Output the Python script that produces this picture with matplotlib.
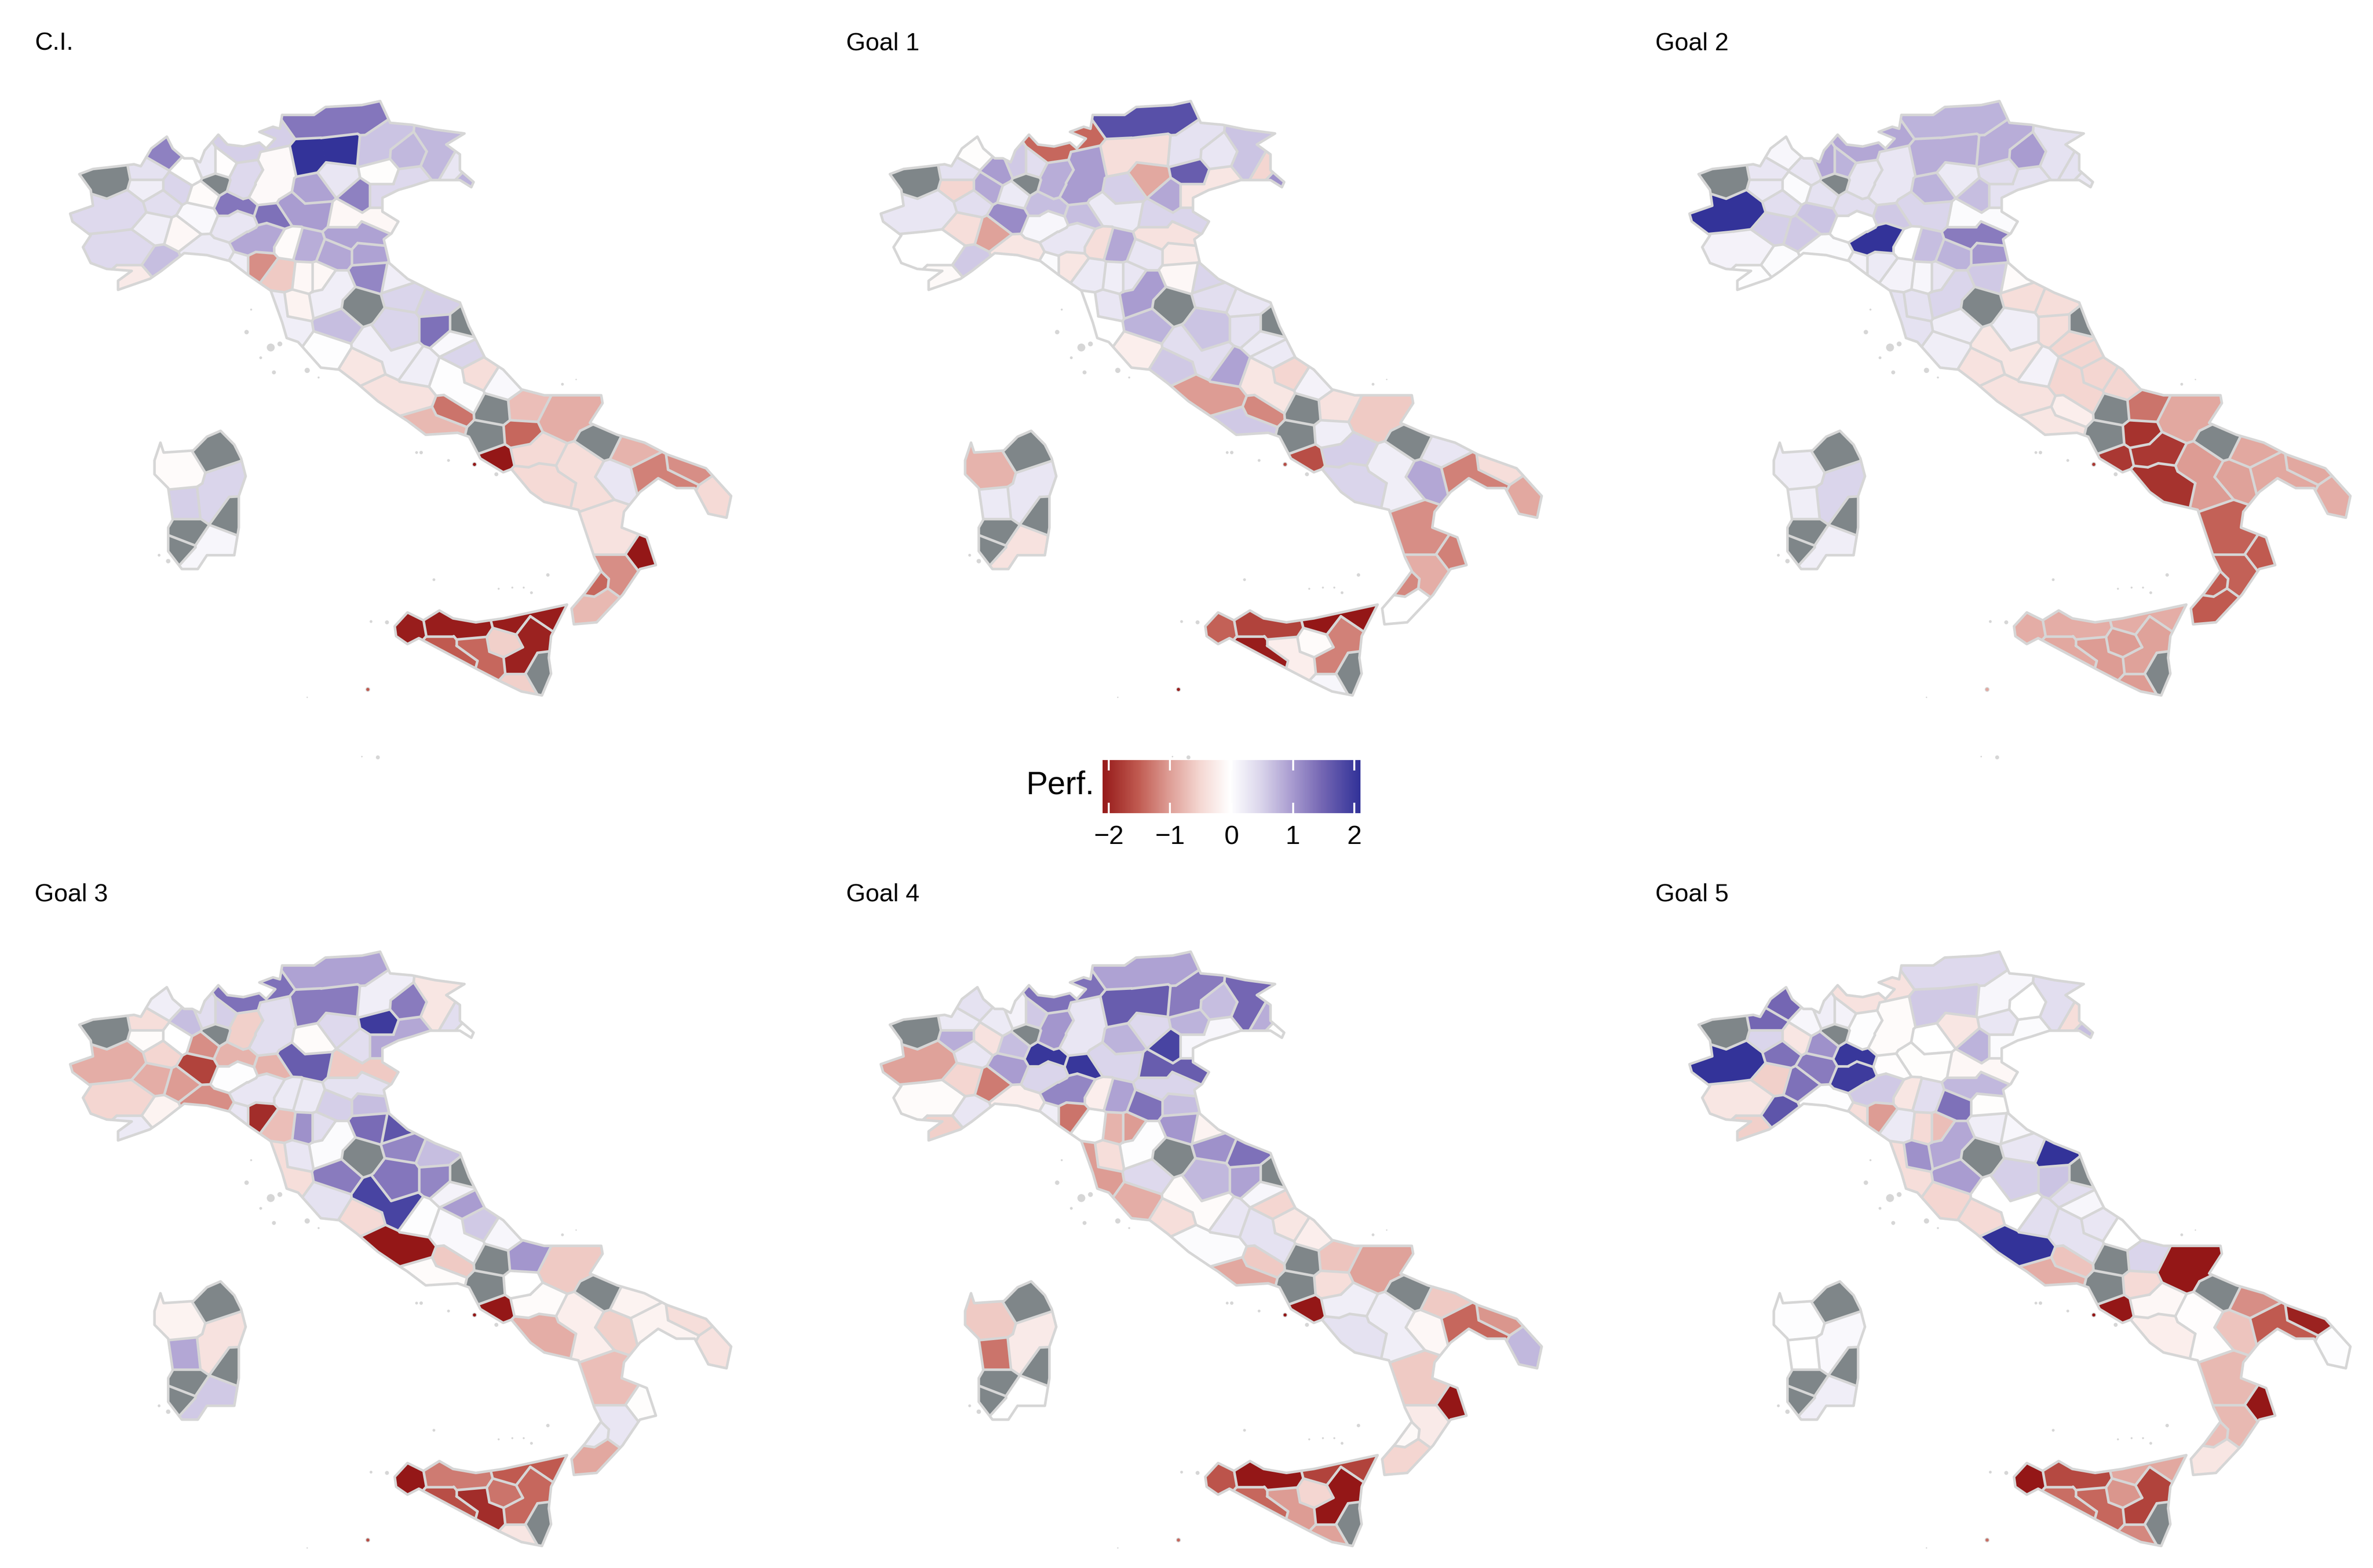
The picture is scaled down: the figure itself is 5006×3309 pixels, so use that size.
import numpy as np
import matplotlib
matplotlib.use("Agg")
import matplotlib.pyplot as plt
from matplotlib.collections import PolyCollection, LineCollection
from matplotlib.colors import LinearSegmentedColormap, Normalize
from matplotlib.cm import ScalarMappable
from matplotlib.path import Path
from matplotlib.patches import PathPatch

plt.rcParams['font.family'] = ['Liberation Sans', 'DejaVu Sans']
nan = float('nan')

TITLES = ["C.I.", "Goal 1", "Goal 2", "Goal 3", "Goal 4", "Goal 5"]
PROVINCES = ["AO","TO","CN","IM","SV","GE","SP","VCO","BIa","BIb",
 "VC","NO","VA","CO","LC","MB","MI","PV","AL","AT",
 "LO","CR","PC","PR","RE","MO","BO","FE","RA","FC",
 "RN","MN","VR","VI","PD","RO","VE","TV","BL","PN",
 "UD","GO","TS","BZ","TN","SO","BG","BS","MS","LU",
 "PT","PO","FI","PI","LI","AR","SI","GR","PU","AN",
 "MC","FM","AP","PG","TR","VT","RI","TE","PE","AQ",
 "CH","RM","FR","LT","IS","CE","CB","BN","FG","AV",
 "NA","SA","PZ","MT","BAT","BA","TA","BR","LE","CS",
 "KR","CZ","VV","RC","TP","PA","ME","AG","CL","EN",
 "CT","RG","SR","SS","OT","NU","OR","OG","VS","SU",
 "CA"]
CI = [nan,.45,.45,-.25,.7,.25,.2,1.25,.35,.2,
 .4,.5,0,.25,-.02,nan,-.05,.08,-.1,.2,
 1.35,1.4,.3,.9,-.05,.85,.9,.95,.95,1.2,
 .2,1.0,.95,.3,1.25,-.1,.45,-.03,.65,.75,
 .75,.3,.8,1.35,2.1,.55,.45,-.07,-1.1,-.6,
 -.1,-.1,.2,-.15,.2,nan,.7,.02,.5,.55,
 1.4,nan,.08,.5,.2,-.3,.2,.5,-.4,.03,
 .08,-.35,-1.3,-.75,nan,nan,-.7,-1.4,-.85,-.45,
 -2.1,-.45,-.4,.3,nan,-.8,-1.2,-1.1,-.45,-.35,
 -2.1,-1.1,-1.4,-.75,-2.05,-2.05,-2.05,-1.5,-1.4,-.55,
 -2.0,-.55,nan,-.05,nan,.5,.55,nan,nan,nan,
 .1]
GOAL1 = [nan,.3,0,-.08,.6,-.3,.05,-.03,.35,-.5,
 .4,.9,1.0,.6,.4,nan,.25,1.15,-.95,-.4,
 .7,.7,.1,.3,-.4,.9,.3,-.35,-.25,-.1,
 .5,.25,.55,-.9,.9,.5,-.3,1.6,.35,.3,
 .65,-.5,1.1,1.75,-.4,-1.4,.85,1.0,-.3,.25,
 .2,.3,1.0,.3,0,nan,.8,-.2,.4,.3,
 .35,nan,.25,.65,.4,.6,.95,.25,-.5,-.3,
 .15,-1.0,-1.15,.6,nan,nan,-.35,.2,-.6,.55,
 -1.6,.5,.2,.9,nan,.3,-1.2,-.4,-.9,-1.1,
 -1.2,-.85,-1.15,0,-1.45,-1.7,-2.1,-2.05,-.2,-.05,
 -1.2,.1,nan,-.8,nan,.3,.25,nan,nan,nan,
 -.35]
GOAL2 = [nan,2.1,.15,.02,.05,.05,.15,.1,.3,.25,
 .4,.05,.3,.9,.8,nan,.35,.65,.6,.55,
 .4,.6,0,2.1,0,.7,.8,1.3,1.05,.6,
 -.05,.5,.8,.25,.7,.05,.35,.4,.85,1.0,
 .35,.35,.25,.8,.85,.9,.3,.3,.25,.15,
 .1,.3,.5,.35,.35,nan,.2,.2,-.4,-.4,
 -.4,nan,-.5,.2,-.3,-.35,.15,-.5,-.5,-.5,
 -.5,-.35,-.2,-.3,nan,nan,-1.3,-1.85,-.9,-1.8,
 -1.8,-1.85,-1.0,-.95,nan,-.9,-.9,-.9,-.85,-1.45,
 -1.5,-1.45,-1.5,-1.5,-.85,-.85,-.85,-.9,-1.0,-1.0,
 -.95,-1.0,nan,.2,nan,.5,.2,nan,nan,nan,
 .2]
GOAL3 = [nan,-.85,-.5,.25,-.15,-1.1,.3,.2,-.4,-.05,
 -.5,0,.7,.4,.55,nan,-1.1,-1.7,-1.0,-.85,
 -.8,-.8,.03,.3,.25,.25,.55,.35,.7,1.45,
 1.7,1.6,-.05,.45,.4,-.6,.9,2.0,.2,1.3,
 -.3,.4,0,.95,1.3,1.4,-.55,.4,-1.9,-.7,
 1.1,.4,.05,.3,-.4,nan,1.3,.35,1.2,.7,
 1.2,nan,.15,1.35,1.9,-.45,.03,1.0,.6,.08,
 .1,-2.1,-.6,-.05,nan,nan,1.05,0,-.6,-.05,
 -2.1,-.85,-.2,-.55,nan,-.15,-.15,-.4,-.35,-.7,
 -.03,.3,.25,-.9,-2.1,-1.25,-1.5,-1.6,-1.9,-1.3,
 -1.4,-.3,nan,-.15,nan,-.35,.9,nan,nan,nan,
 .6]
GOAL4 = [nan,-.95,-.05,-.55,.3,-.2,.2,.35,.25,.85,
 .3,-.35,.25,.15,.6,nan,.7,1.0,-1.25,-.5,
 2.05,2.05,.5,1.2,-.2,.95,1.4,.5,.7,1.05,
 -.15,.5,.8,.45,1.9,1.6,.1,.8,1.3,.7,
 1.5,.85,0,.95,1.6,1.4,1.05,.3,-1.3,0,
 -.8,-1.0,.03,-.4,-1.0,nan,.45,-.85,1.1,1.4,
 .95,nan,.1,.75,-.05,-.4,.3,-.5,-.3,.35,
 -.2,.05,-.6,-.9,nan,nan,-.65,-.4,-.95,.2,
 -2.1,.35,.2,-.1,nan,-.6,-1.4,-1.05,.75,-.6,
 -2.1,-.25,-.08,-.5,-1.55,-2.1,-1.7,-1.4,-1.0,-.5,
 -2.1,-.95,nan,-.6,nan,-.25,-1.3,nan,nan,nan,
 0]
GOAL5 = [nan,2.1,-.3,-.55,1.7,.03,-.4,1.5,1.5,.5,
 1.4,-.3,.1,.2,.15,nan,1.1,1.3,1.4,-.55,
 2.05,-.02,2.0,.6,-.3,.4,1.4,.75,-.03,.2,
 .1,-.03,0,-.3,.8,-.1,.05,.3,.1,0,
 .4,-.4,.7,.45,.6,-.35,.02,-.05,-1.0,.25,
 -.45,-.7,.9,1.1,-.4,nan,1.0,-.5,.3,2.1,
 .65,nan,.4,.55,0,-.45,.4,.1,.3,.35,
 0,2.1,-.65,-.85,nan,nan,.5,-.45,-2.1,-.1,
 -2.1,-.2,-.02,-.65,nan,-1.1,-1.5,-2.0,.02,-.75,
 -2.1,-.75,-.7,-.3,-2.1,-1.65,-.9,-1.35,-1.4,-1.05,
 -1.7,-1.15,nan,.02,nan,.08,0,nan,nan,nan,
 .2]
PANELS = [CI, GOAL1, GOAL2, GOAL3, GOAL4, GOAL5]

# province seed locations on the map (several seeds can share one province)
SITE_PROV = ["AO","TO","TO","CN","CN","IM","SV","GE","GE","SP","VCO","BIa","BIb","VC","NO","VA","CO","LC","MB","MI",
 "PV","AL","AT","LO","LO","CR","CR","PC","PR","RE","MO","BO","FE","FE","RA","FC","RN","MN","MN","VR",
 "VI","PD","RO","RO","VE","VE","TV","BL","BL","PN","UD","UD","GO","TS","BZ","BZ","BZ","TN","TN","SO",
 "SO","BG","BS","BS","MS","LU","PT","PO","FI","FI","PI","LI","LI","AR","SI","GR","PU","AN","MC","FM",
 "AP","PG","PG","TR","TR","VT","RI","TE","PE","AQ","AQ","CH","RM","RM","FR","LT","LT","IS","CE","CB",
 "BN","FG","FG","AV","NA","SA","SA","PZ","PZ","MT","BAT","BA","TA","TA","BR","LE","CS","CS","KR","CZ",
 "CZ","VV","RC","RC","TP","PA","PA","ME","ME","AG","AG","CL","CL","EN","CT","CT","RG","SR","SS","OT",
 "NU","NU","OR","OG","VS","SU","CA","CA",
 "BG","BS","PC","AV","SA","PR","PR"]
SITE_X = [135,100,175,110,190,190,250,335,380,420,255,225,225,250,283,310,352,385,370,345,
 330,295,235,405,440,475,505,405,465,530,570,630,650,710,705,710,770,535,590,585,
 640,685,650,730,730,800,730,745,715,790,860,860,890,920,560,640,710,565,650,420,
 495,430,510,490,460,515,565,597,630,610,545,503,530,685,635,610,785,855,860,905,
 895,770,755,725,775,695,815,915,945,880,915,1000,730,800,890,820,870,980,965,1045,
 1040,1125,1175,1085,990,1075,1115,1165,1195,1250,1215,1285,1320,1385,1405,1460,1215,1250,1310,1250,
 1255,1205,1195,1230,795,860,930,1020,1100,860,910,935,975,1000,1065,1030,1030,1080,295,370,
 395,360,305,400,305,285,365,330,
 425,470,430,1052,1045,435,490]
SITE_Y = [235,330,315,420,415,495,450,420,430,450,175,220,258,295,258,220,205,205,248,275,
 335,375,360,298,312,322,335,362,395,395,405,425,382,380,425,480,490,318,325,270,
 235,280,335,340,280,242,220,125,170,175,135,200,215,240,90,90,80,180,165,165,
 130,225,190,255,450,485,490,490,510,545,555,560,620,555,605,670,530,555,610,610,
 645,610,640,660,695,715,720,680,730,740,790,760,780,795,825,855,870,820,890,815,
 885,850,825,925,950,990,1025,960,1040,1000,895,925,985,1010,975,1045,1090,1150,1185,1225,
 1270,1265,1325,1300,1375,1365,1375,1355,1340,1425,1455,1425,1470,1415,1385,1465,1515,1490,975,935,
 1000,1060,1065,1085,1130,1175,1165,1210,
 262,282,338,938,995,405,375]

# land outlines
MAIN_X = [70,100,155,190,205,228,262,275,300,318,335,345,375,395,430,465,480,500,465,495,510,515,585,610,690,730,752,800,850,915,875,905,905,935,930,905,880,840,800,770,735,735,770,755,738,750,790,850,905,925,960,1000,1040,1090,1215,1218,1190,1250,1310,1360,1445,1500,1490,1450,1420,1380,1340,1300,1265,1260,1315,1335,1300,1262,1205,1155,1150,1180,1215,1200,1165,1090,1060,1018,1000,950,925,900,830,790,770,725,680,640,600,550,525,515,490,440,400,350,300,250,225,155,155,185,130,95,78,95,55,50,100,95]
MAIN_Y = [225,212,205,200,205,160,130,160,185,185,195,165,125,150,155,145,160,135,118,105,110,75,75,55,50,40,95,100,112,122,150,175,215,245,258,240,240,240,255,265,285,320,345,375,390,450,490,525,550,610,690,720,770,785,785,805,855,885,905,935,970,1040,1095,1085,1020,1020,995,1030,1080,1120,1145,1215,1225,1290,1360,1365,1325,1285,1230,1195,1075,1055,1030,972,980,945,890,880,885,850,835,800,755,720,715,650,640,600,520,480,445,430,425,470,490,518,495,470,465,450,410,380,345,325,305,265]
SICILY_X = [762,790,825,860,890,940,1000,1060,1140,1105,1100,1105,1085,1040,995,945,880,815,790,765]
SICILY_Y = [1370,1335,1355,1330,1350,1360,1350,1335,1315,1395,1450,1490,1545,1535,1510,1480,1440,1400,1415,1395]
SARD_X = [235,248,255,320,350,380,410,425,435,420,420,410,350,330,295,265,265,275,265,235]
SARD_Y = [950,905,930,925,890,875,910,945,990,1040,1120,1190,1190,1225,1225,1180,1120,1100,1020,985]
ISLE_X = [490,510,437,447,468,497,570,595,820,880,810,985,848,1098,990,1020,1045,1062,710,745,1130,1160,245,265,725,690,570]
ISLE_Y = [664,655,625,568,690,727,722,740,930,950,930,985,1252,1240,1275,1272,1272,1285,1358,1360,757,745,1190,1205,1702,1700,1550]
ISLE_S = [16,6,5,1,2,4,7,1,3,2,2,4,2,3,1,1,1,2,2,4,2,.5,2,5,4,.6,.5]
TINY_X = [703, 937]
TINY_Y = [1530, 960]
TINY_PROV = ["AG", "NA"]

TICKS = [-2, -1, 0, 1, 2]
COL_STOPS = [-2.1, -1.5, -1, -.5, 0, .5, 1, 1.5, 2.1]
COL_HEX = ["#941717", "#C05A50", "#DD9C94", "#F4D6D1", "#FFFFFF", "#DAD5EB", "#A99CD0", "#7466B3", "#333399"]
GREY = "#7F8689"
BORDER = "#D6D6D6"

assert len(PROVINCES) == len(CI) == len(GOAL1) == len(GOAL2) == len(GOAL3) == len(GOAL4) == len(GOAL5)
assert len(SITE_PROV) == len(SITE_X) == len(SITE_Y)
assert len(ISLE_X) == len(ISLE_Y) == len(ISLE_S)
assert len(MAIN_X) == len(MAIN_Y)

vmin, vmax = COL_STOPS[0], COL_STOPS[-1]
cmap = LinearSegmentedColormap.from_list(
    "perf", [((v - vmin) / (vmax - vmin), c) for v, c in zip(COL_STOPS, COL_HEX)], N=512)
cmap.set_bad(GREY)
norm = Normalize(vmin, vmax)


def clip_cell(pts, tags, a, b, c, j):
    out, out_t = [], []
    n = len(pts)
    for k in range(n):
        P, Q = pts[k], pts[(k + 1) % n]
        dp, dq = a * P[0] + b * P[1] - c, a * Q[0] + b * Q[1] - c
        if dp <= 0:
            out.append(P)
            out_t.append(tags[k])
            if dq > 0:
                t = dp / (dp - dq)
                out.append((P[0] + t * (Q[0] - P[0]), P[1] + t * (Q[1] - P[1])))
                out_t.append(j)
        elif dq <= 0:
            t = dp / (dp - dq)
            out.append((P[0] + t * (Q[0] - P[0]), P[1] + t * (Q[1] - P[1])))
            out_t.append(tags[k])
    return out, out_t


def build_cells():
    cells, seams = [], []
    xs, ys = np.array(SITE_X, float), np.array(SITE_Y, float)
    for i in range(len(xs)):
        pts = [(-500., -500.), (2500., -500.), (2500., 2500.), (-500., 2500.)]
        tags = [-1, -1, -1, -1]
        order = np.argsort((xs - xs[i]) ** 2 + (ys - ys[i]) ** 2)
        for j in order:
            if j == i:
                continue
            a, b = xs[j] - xs[i], ys[j] - ys[i]
            c = (xs[j] ** 2 + ys[j] ** 2 - xs[i] ** 2 - ys[i] ** 2) / 2
            pts, tags = clip_cell(pts, tags, a, b, c, int(j))
        cells.append(pts)
        n = len(pts)
        for k in range(n):
            t = tags[k]
            if t > i and SITE_PROV[t] != SITE_PROV[i]:
                seams.append([pts[k], pts[(k + 1) % n]])
    return cells, seams


def land_path():
    verts, codes = [], []
    for X, Y in ((MAIN_X, MAIN_Y), (SICILY_X, SICILY_Y), (SARD_X, SARD_Y)):
        ring = list(zip(X, Y))
        verts += ring + [ring[0]]
        codes += [Path.MOVETO] + [Path.LINETO] * (len(ring) - 1) + [Path.CLOSEPOLY]
    return Path(verts, codes)


cells, seams = build_cells()
land = land_path()
prov_index = {p: i for i, p in enumerate(PROVINCES)}
site_idx = [prov_index[p] for p in SITE_PROV]

W, H = 5006, 3309
fig = plt.figure(figsize=(W / 300, H / 300), dpi=300, facecolor="white")
COL_X0 = [100, 1810, 3516]
ROW_Y0 = [180, 1975]
TITLE_X = [73, 1785, 3492]
TITLE_Y = [92, 1888]

for p, (title, vals) in enumerate(zip(TITLES, PANELS)):
    r, c = p // 3, p % 3
    ax = fig.add_axes([COL_X0[c] / W, 1 - (ROW_Y0[r] + 1300) / H, 1500 / W, 1300 / H])
    ax.set_xlim(0, 1560)
    ax.set_ylim(1560, 0)
    ax.axis("off")
    v = np.array(vals, float)
    cell_vals = np.ma.masked_invalid(v[site_idx])
    coll = PolyCollection(cells, array=cell_vals, cmap=cmap, norm=norm,
                          edgecolors="face", linewidths=0.3, zorder=1)
    ax.add_collection(coll)
    coll.set_clip_path(land, ax.transData)
    lines = LineCollection(seams, colors=BORDER, linewidths=1.3, zorder=2, capstyle="round")
    ax.add_collection(lines)
    lines.set_clip_path(land, ax.transData)
    ax.add_patch(PathPatch(land, fc="none", ec=BORDER, lw=1.3, zorder=3, joinstyle="round"))
    ax.scatter(ISLE_X, ISLE_Y, s=ISLE_S, c=BORDER, linewidths=0, zorder=3, clip_on=False)
    ax.scatter(TINY_X, TINY_Y, s=4, c=[v[prov_index[q]] for q in TINY_PROV], cmap=cmap, norm=norm,
               edgecolors=BORDER, linewidths=0.4, zorder=4, clip_on=False)
    fig.text(TITLE_X[c] / W, 1 - TITLE_Y[r] / H, title, fontsize=12.6, ha="left", va="center", color="black")

cax = fig.add_axes([2326 / W, 1 - 1716 / H, 544 / W, 112 / H])
cb = fig.colorbar(ScalarMappable(norm=norm, cmap=cmap), cax=cax, orientation="horizontal", ticks=TICKS)
cb.outline.set_visible(False)
cb.solids.set_edgecolor("face")
cax.tick_params(length=0, labelsize=13.4, pad=6)
cax.vlines(TICKS, 0, 0.2, color="white", lw=1.0)
cax.vlines(TICKS, 0.8, 1.0, color="white", lw=1.0)
fig.text(2309 / W, 1 - 1657 / H, "Perf.", fontsize=16.4, ha="right", va="center", color="black")

fig.savefig("out.png", dpi=300, facecolor="white")
